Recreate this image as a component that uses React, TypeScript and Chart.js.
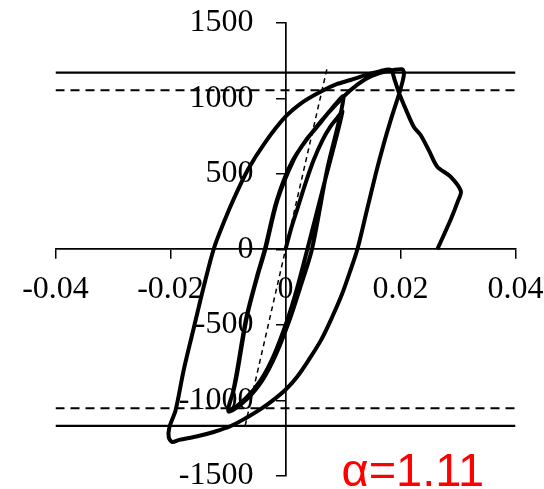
import { useEffect, useRef } from "react";
import { Chart, registerables } from "chart.js";

Chart.register(...registerables);

// Hysteresis path: drift ratio (rad) and storey shear, in loading order
const drift = [
  // initial loading
  0, 0.001, 0.002, 0.0035, 0.0049, 0.0064, 0.0078, 0.009, 0.0099,
  // first unloading to the negative side
  0.0069, 0.0038, 0.002, 0.0003, -0.002, -0.0043, -0.007, -0.0099,
  // reloading to the positive side
  -0.009, -0.0084, -0.0067, -0.0049, -0.0035, -0.0014, 0.0014, 0.0035, 0.0055, 0.0078, 0.0101,
  // second unloading
  0.0072, 0.0046, 0.0025, 0.0007, -0.0017, -0.004, -0.0068, -0.0099,
  // reloading up to the large positive excursion
  -0.0091, -0.0085, -0.0068, -0.005, -0.0036, -0.0015, 0.0013, 0.0054, 0.0101, 0.0125, 0.0148, 0.0175, 0.0203,
  // unloading to the large negative excursion
  0.0206, 0.02, 0.0185, 0.0171, 0.0157, 0.0141, 0.0125, 0.0112, 0.0098, 0.0081, 0.0062, 0.004, 0.002, 0,
  -0.0022, -0.0044, -0.007, -0.0095, -0.0125, -0.0155, -0.0185, -0.0197, -0.0203,
  // reloading along the outer branch
  -0.0202, -0.0191, -0.0177, -0.0159, -0.0143, -0.0125, -0.0106, -0.0088, -0.0065, -0.0035, 0, 0.003, 0.0061,
  0.009, 0.0113, 0.014, 0.0165, 0.0183,
  // strength degradation and final unloading
  0.019, 0.0197, 0.021, 0.0223, 0.0235, 0.025, 0.0264, 0.0287, 0.0305, 0.03, 0.0293, 0.0287, 0.0276, 0.0264,
];

const load = [
  0, 140, 260, 440, 591, 720, 812, 870, 911,
  460, 0, -260, -469, -700, -866, -990, -1070,
  -930, -820, -446, -181, 0, 326, 591, 720, 812, 920, 1011,
  520, 0, -260, -469, -700, -866, -995, -1075,
  -940, -820, -450, -185, 0, 326, 591, 812, 1011, 1090, 1145, 1178, 1192,
  1160, 1060, 880, 700, 500, 250, 0, -150, -300, -450, -600, -735, -845, -930,
  -1000, -1060, -1120, -1170, -1210, -1240, -1262, -1276, -1245,
  -1180, -1064, -799, -513, -260, 0, 190, 350, 530, 710, 878, 975, 1044,
  1095, 1121, 1155, 1180, 1188,
  1120, 1040, 920, 812, 757, 650, 547, 481, 385, 320, 250, 194, 100, 0,
];

// Elastic stiffness line through the origin
const elasticDrift = [-0.007, 0.0073];
const elasticLoad = [-1165, 1210];

// Reference strengths (solid = maximum, dashed = yield)
const maxStrength = 1170;
const yieldStrength = 1053;
const strengthRatioLabel = "α=1.11";

const xTickValues = [-0.04, -0.02, 0, 0.02, 0.04];
const xTickLabels = ["-0.04", "-0.02", "0", "0.02", "0.04"];
const yTickValues = [-1500, -1000, -500, 0, 500, 1000, 1500];
const yTickLabels = ["-1500", "-1000", "-500", "0", "500", "1000", "1500"];

const SERIF = '"Liberation Serif", "Times New Roman", Times, serif';

export default function App() {
  const canvasRef = useRef<HTMLCanvasElement | null>(null);

  useEffect(() => {
    const canvas = canvasRef.current;
    if (!canvas) return;

    const ratioText = {
      id: "ratioText",
      afterDraw(chart: Chart) {
        const ctx = chart.ctx;
        ctx.save();
        ctx.font = '47px "Liberation Sans", Arial, sans-serif';
        ctx.fillStyle = "#ff0000";
        ctx.textAlign = "left";
        ctx.textBaseline = "alphabetic";
        ctx.fillText(strengthRatioLabel, 341.5, 486);
        ctx.restore();
      },
    };

    const hLine = (y: number) => [
      { x: -0.04, y },
      { x: 0.04, y },
    ];

    const chart = new Chart(canvas, {
      type: "scatter",
      data: {
        datasets: [
          {
            data: hLine(maxStrength),
            showLine: true,
            borderColor: "#000",
            borderWidth: 2.2,
            pointRadius: 0,
          },
          {
            data: hLine(-maxStrength),
            showLine: true,
            borderColor: "#000",
            borderWidth: 2.2,
            pointRadius: 0,
          },
          {
            data: hLine(yieldStrength),
            showLine: true,
            borderColor: "#000",
            borderWidth: 2,
            borderDash: [9, 6],
            pointRadius: 0,
          },
          {
            data: hLine(-yieldStrength),
            showLine: true,
            borderColor: "#000",
            borderWidth: 2,
            borderDash: [9, 6],
            pointRadius: 0,
          },
          {
            data: elasticDrift.map((x, i) => ({ x, y: elasticLoad[i] })),
            showLine: true,
            borderColor: "#000",
            borderWidth: 1.5,
            borderDash: [5, 4],
            pointRadius: 0,
          },
          {
            data: drift.map((x, i) => ({ x, y: load[i] })),
            showLine: true,
            borderColor: "#000",
            borderWidth: 4,
            pointRadius: 0,
            tension: 0.3,
          },
        ],
      },
      options: {
        animation: false,
        responsive: false,
        devicePixelRatio: 1,
        layout: { padding: { left: 55.5, right: 84.5, top: 22.8, bottom: 44.2 } },
        plugins: { legend: { display: false }, tooltip: { enabled: false } },
        scales: {
          x: {
            type: "linear",
            min: -0.04,
            max: 0.04,
            position: { y: 0 } as any,
            afterBuildTicks: (scale: any) => {
              scale.ticks = xTickValues.map((value) => ({ value }));
            },
            ticks: {
              autoSkip: false,
              maxRotation: 0,
              padding: 12,
              color: "#000",
              font: { family: SERIF, size: 32 },
              callback: (v: any) => xTickLabels[xTickValues.indexOf(Number(v))] ?? "",
            },
            grid: {
              display: true,
              drawOnChartArea: false,
              drawTicks: true,
              tickLength: 9,
              color: "#000",
              lineWidth: 1.5,
            },
            border: { display: true, color: "#000", width: 1.8 },
          },
          y: {
            type: "linear",
            min: -1500,
            max: 1500,
            position: { x: 0 } as any,
            afterBuildTicks: (scale: any) => {
              scale.ticks = yTickValues.map((value) => ({ value }));
            },
            ticks: {
              autoSkip: false,
              color: "#000",
              font: { family: SERIF, size: 32 },
              // trailing spaces keep the labels clear of the axis line
              callback: (v: any) => (yTickLabels[yTickValues.indexOf(Number(v))] ?? "") + "    ",
            },
            grid: {
              display: true,
              drawOnChartArea: false,
              drawTicks: true,
              tickLength: 9,
              color: "#000",
              lineWidth: 1.5,
            },
            border: { display: true, color: "#000", width: 1.7 },
          },
        },
      },
      plugins: [ratioText],
    });

    return () => chart.destroy();
  }, []);

  return (
    <div
      style={{
        position: "fixed",
        left: 0,
        top: 0,
        width: 544,
        height: 489,
        overflow: "hidden",
        background: "#fff",
      }}
    >
      <canvas ref={canvasRef} width={600} height={520} style={{ width: 600, height: 520, display: "block" }} />
    </div>
  );
}
